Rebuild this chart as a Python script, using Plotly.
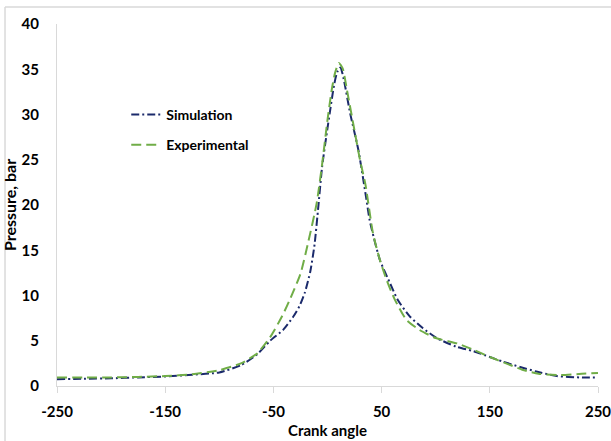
import plotly.graph_objects as go

# Cylinder pressure versus crank angle
sim_angle = [-250, -225, -200, -175, -150, -125, -100, -80, -65, -53, -41, -32, -26,
             -21, -16, -12, -8.5, -5, 0, 2, 6, 9, 12, 15, 21, 28.5, 36, 39, 48.5, 58,
             65, 76, 88, 101, 119, 135, 150, 162, 178, 193, 212, 233, 250]
sim_pressure = [0.75, 0.8, 0.85, 0.95, 1.05, 1.25, 1.5, 2.3, 3.5, 5.0, 6.2, 7.6, 8.8,
                10.3, 12.6, 15.6, 19.8, 24.2, 28.5, 30.1, 33.2, 34.7, 35.2, 33.9, 30.1,
                26.1, 20.6, 18.3, 13.9, 11.3, 9.5, 7.7, 6.4, 5.3, 4.35, 3.85, 3.2, 2.7,
                2.1, 1.6, 1.1, 0.95, 0.95]

exp_angle = [-250, -225, -200, -175, -150, -125, -100, -80, -65, -53, -42, -35, -25,
             -18, -10, -5, 0, 4, 7, 10.5, 14, 18, 25, 30, 35, 42, 48, 55, 62, 73, 85,
             100, 120, 135, 150, 165, 180, 195, 215, 235, 250]
exp_pressure = [0.95, 0.95, 0.95, 1.0, 1.1, 1.3, 1.75, 2.5, 3.6, 5.4, 7.7, 9.5, 12.4,
                15.8, 20.2, 24.5, 29.4, 32.8, 34.6, 35.7, 35.1, 32.7, 28.2, 25.0, 22.3,
                16.9, 14.1, 11.6, 9.6, 7.3, 6.2, 5.3, 4.7, 4.0, 3.2, 2.5, 1.8, 1.35,
                1.2, 1.35, 1.45]

x_ticks = [-250, -150, -50, 50, 150, 250]
y_ticks = [0, 5, 10, 15, 20, 25, 30, 35, 40]

FONT = "Lato"
AXIS_GREY = "#D9D9D9"

fig = go.Figure()
fig.add_trace(go.Scatter(
    x=sim_angle, y=sim_pressure, name="Simulation", mode="lines",
    legendgroup="sim",
    line=dict(color="#1B2A6B", width=2, dash="8px,3px,2px,3px", shape="spline", smoothing=0.6),
))
fig.add_trace(go.Scatter(
    x=exp_angle, y=exp_pressure, name="Experimental", mode="lines",
    legendgroup="exp",
    line=dict(color="#70AD47", width=2, dash="10px,5px", shape="spline", smoothing=0.6),
))

fig.update_layout(
    width=611, height=441,
    margin=dict(l=57, r=13, t=24, b=55, autoexpand=False),
    paper_bgcolor="white", plot_bgcolor="white",
    font=dict(family=FONT, size=14, color="black"),
    showlegend=True,
    legend=dict(
        x=0.128, y=0.793, xanchor="left", yanchor="top",
        bgcolor="rgba(0,0,0,0)", borderwidth=0,
        font=dict(family=FONT, size=14, color="black", weight="bold"),
        tracegroupgap=9, itemwidth=30,
    ),
    xaxis=dict(
        range=[-250, 250], tickvals=x_ticks, ticktext=[str(v) for v in x_ticks],
        showgrid=False, zeroline=False, automargin=False,
        showline=True, linecolor=AXIS_GREY, linewidth=1,
        ticks="outside", ticklen=6, tickcolor=AXIS_GREY,
        ticklabelstandoff=6, ticklabeloverflow="allow",
        tickfont=dict(family=FONT, size=15, color="black", weight="bold"),
        title=dict(text="Crank angle", standoff=6,
                   font=dict(family=FONT, size=15, color="black", weight="bold")),
    ),
    yaxis=dict(
        range=[0, 40], tickvals=y_ticks,
        showgrid=False, zeroline=False, automargin=False,
        showline=True, linecolor=AXIS_GREY, linewidth=1,
        ticks="", ticklabelstandoff=14, ticklabeloverflow="allow",
        tickfont=dict(family=FONT, size=15, color="black", weight="bold"),
        title=dict(text="Pressure, bar", standoff=0,
                   font=dict(family=FONT, size=16, color="black", weight="bold")),
    ),
    shapes=[
        # light frame around the chart (top and left edges)
        dict(type="line", xref="paper", yref="paper", x0=-0.0961, x1=1.03,
             y0=1.047, y1=1.047, line=dict(color=AXIS_GREY, width=1.5)),
        dict(type="line", xref="paper", yref="paper", x0=-0.0961, x1=-0.0961,
             y0=1.047, y1=-0.16, line=dict(color=AXIS_GREY, width=1.5)),
    ],
)

fig.write_html("out.html")
